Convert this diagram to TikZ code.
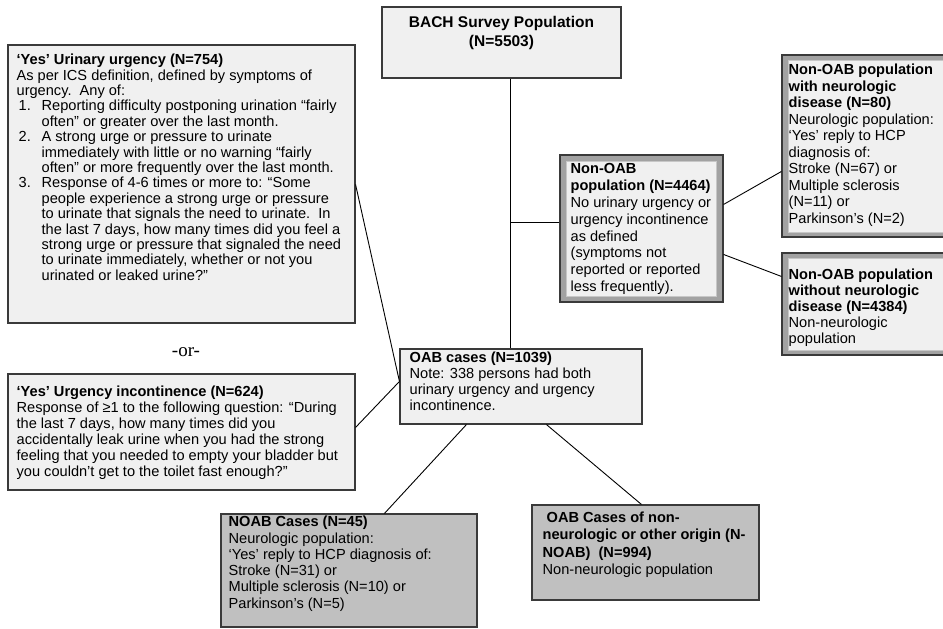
\documentclass[tikz,border=0pt]{standalone}
\usepackage{fontspec}
\setmainfont{Liberation Sans}
\newfontfamily\orfont{Liberation Serif}
\usetikzlibrary{calc}
\definecolor{boxfill}{HTML}{F0F0F0}
\definecolor{darkfill}{HTML}{C0C0C0}
\definecolor{boxline}{HTML}{3A3A3A}
\definecolor{bandgray}{HTML}{A2A2A2}
\begin{document}
\begin{tikzpicture}[x=1pt,y=-1pt,
  plainbox/.style={draw=boxline, fill=boxfill, line width=1.1pt, inner sep=0pt, rectangle},
  greybox/.style={plainbox, fill=darkfill},
  bandbox/.style={plainbox, fill=bandgray},
  innerbox/.style={draw=bandgray!60!white, fill=boxfill, line width=0.6pt, inner sep=0pt, rectangle},
  txt/.style={anchor=north west, inner sep=0pt, align=left, font=\fontsize{14.6}{#1}\selectfont},
  txt/.default=16,
  link/.style={draw=black, line width=0.9pt}]
\useasboundingbox (0,0) rectangle (943,629);
\fill[white] (0,0) rectangle (943,629);

% boxes
\node[plainbox, minimum width=239pt, minimum height=71pt] (top) at (501.5,42.5) {};
\node[plainbox, minimum width=347pt, minimum height=278pt] (uu) at (181.5,184) {};
\node[plainbox, minimum width=347pt, minimum height=116pt] (ui) at (181.5,432) {};
\node[plainbox, minimum width=242pt, minimum height=75pt] (oab) at (521,386.5) {};
\node[bandbox, minimum width=163pt, minimum height=147pt] (nonoab) at (641.5,228.5) {};
\node[innerbox, minimum width=150pt, minimum height=135pt] (nonoabin) at (641.5,229) {};
\node[bandbox, minimum width=168pt, minimum height=182pt] (rneu) at (866,146) {};
\node[innerbox, minimum width=158pt, minimum height=172pt] (rneuin) at (867,146) {};
\node[bandbox, minimum width=168pt, minimum height=102pt] (rnon) at (866,304) {};
\node[innerbox, minimum width=158pt, minimum height=92pt] (rnonin) at (867,304) {};
\node[greybox, minimum width=256pt, minimum height=113pt] (noab) at (349,570.5) {};
\node[greybox, minimum width=227pt, minimum height=95pt] (nnoab) at (645.5,552.5) {};

% texts
\node[inner sep=0pt, align=center, font=\fontsize{15.5}{18.5}\selectfont\bfseries] (toptxt) at (501.5,33) {BACH Survey Population\\(N=5503)};

\node[txt=15.4] (uutxt) at ($(uu.north west)+(9,9.5)$) {%
\textbf{‘Yes’ Urinary urgency (N=754)}\\
As per ICS definition, defined by symptoms of\\
urgency.\ \ Any of:\\
\hspace*{2pt}\makebox[23pt][l]{1.}Reporting difficulty postponing urination “fairly\\
\hspace*{25pt}often” or greater over the last month.\\
\hspace*{2pt}\makebox[23pt][l]{2.}A strong urge or pressure to urinate\\
\hspace*{25pt}immediately with little or no warning “fairly\\
\hspace*{25pt}often” or more frequently over the last month.\\
\hspace*{2pt}\makebox[23pt][l]{3.}Response of 4-6 times or more to: “Some\\
\hspace*{25pt}people experience a strong urge or pressure\\
\hspace*{25pt}to urinate that signals the need to urinate.\ \ In\\
\hspace*{25pt}the last 7 days, how many times did you feel a\\
\hspace*{25pt}strong urge or pressure that signaled the need\\
\hspace*{25pt}to urinate immediately, whether or not you\\
\hspace*{25pt}urinated or leaked urine?”};

\node[inner sep=0pt, font=\orfont\fontsize{19}{19}\selectfont] (ortxt) at (186,352) {-or-};

\node[txt=16] (uitxt) at ($(ui.north west)+(9,12.5)$) {%
\textbf{‘Yes’ Urgency incontinence (N=624)}\\
Response of ≥1 to the following question: “During\\
the last 7 days, how many times did you\\
accidentally leak urine when you had the strong\\
feeling that you needed to empty your bladder but\\
you couldn’t get to the toilet fast enough?”};

\node[txt=16] (oabtxt) at ($(oab.north west)+(10,3.5)$) {%
\textbf{OAB cases (N=1039)}\\
Note: 338 persons had both\\
urinary urgency and urgency\\
incontinence.};

\node[txt=16.8] (nonoabtxt) at ($(nonoab.north west)+(11,9)$) {%
\textbf{Non-OAB}\\
\textbf{population (N=4464)}\\
No urinary urgency or\\
urgency incontinence\\
as defined\\
(symptoms not\\
reported or reported\\
less frequently).};

\node[txt=16.5] (rneutxt) at ($(rneu.north west)+(7,9.5)$) {%
\textbf{Non-OAB population}\\
\textbf{with neurologic}\\
\textbf{disease (N=80)}\\
Neurologic population:\\
‘Yes’ reply to HCP\\
diagnosis of:\\
Stroke (N=67) or\\
Multiple sclerosis\\
(N=11) or\\
Parkinson’s (N=2)};

\node[txt=16] (rnontxt) at ($(rnon.north west)+(7,16)$) {%
\textbf{Non-OAB population}\\
\textbf{without neurologic}\\
\textbf{disease (N=4384)}\\
Non-neurologic\\
population};

\node[txt=16.3] (noabtxt) at ($(noab.north west)+(8,2.5)$) {%
\textbf{NOAB Cases (N=45)}\\
Neurologic population:\\
‘Yes’ reply to HCP diagnosis of:\\
Stroke (N=31) or\\
Multiple sclerosis (N=10) or\\
Parkinson’s (N=5)};

\node[txt=17.2] (nnoabtxt) at ($(nnoab.north west)+(11,7.5)$) {%
\textbf{\ OAB Cases of non-}\\
\textbf{neurologic or other origin (N-}\\
\textbf{NOAB)\ \ (N=994)}\\
Non-neurologic population};

% connectors
\coordinate (sp) at (510,0);
\coordinate (br) at (510,222);
\draw[link] (top.south -| sp) -- (oab.north -| sp);
\draw[link] (br) -- (br -| nonoab.west);
\draw[link] ($(nonoab.north east)+(0,50)$) -- ($(rneu.north west)+(0,117)$);
\draw[link] ($(nonoab.north east)+(0,100)$) -- ($(rnon.north west)+(0,24)$);
\draw[link] ($(uu.north east)+(0,140)$) -- ($(oab.north west)+(0,33)$);
\draw[link] ($(ui.north east)+(0,54)$) -- ($(oab.north west)+(0,33)$);
\draw[link] ($(oab.south west)+(67,0)$) -- ($(noab.north west)+(164,0)$);
\draw[link] ($(oab.south west)+(147,0)$) -- ($(nnoab.north west)+(110,0)$);
\end{tikzpicture}
\end{document}
